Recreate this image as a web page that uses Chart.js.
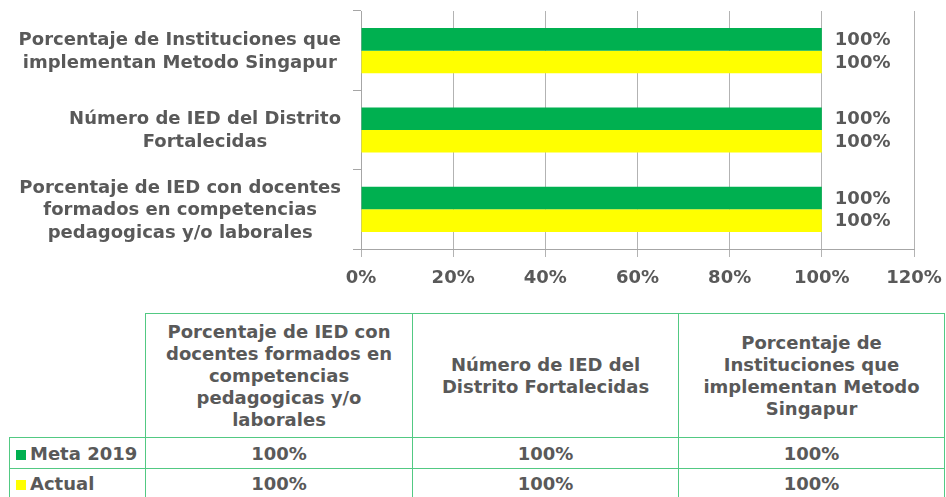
<!DOCTYPE html>
<html>
<head>
<meta charset="utf-8">
<script src="https://cdn.jsdelivr.net/npm/chart.js@4.4.1/dist/chart.umd.min.js"></script>
<style>
  body { margin: 0; background: #fff; }
  #wrap { position: absolute; left: 0; top: 0; width: 946px; height: 300px; }
  #datatable {
    position: absolute; left: 9px; top: 313px;
    border-collapse: collapse; table-layout: fixed;
    color: #595959;
    font-family: "DejaVu Sans", sans-serif; font-weight: bold;
  }
  #datatable td { border: 1px solid #52c983; text-align: center; padding: 0; }
  #datatable td.corner { border: none; }
  #datatable td.head {
    font-size: 18px; line-height: 22px; height: 123px; white-space: nowrap;
  }
  #datatable td.val, #datatable td.name { font-size: 18px; }
  #datatable td.name { text-align: left; padding-left: 6px; white-space: nowrap; }
  .sq { display: inline-block; width: 10px; height: 10px; margin-right: 4px; }
</style>
</head>
<body>
<div id="wrap"><canvas id="metaChart" width="946" height="300"></canvas></div>
<table id="datatable"></table>
<script>
// categories as in the data table (left to right), bars run bottom to top
var categories = [
  'Porcentaje de IED con docentes formados en competencias pedagogicas y/o laborales',
  'Número de IED del Distrito Fortalecidas',
  'Porcentaje de Instituciones que implementan Metodo Singapur'
];
var chartLabels = [
  ['Porcentaje de IED con docentes', 'formados en competencias', 'pedagogicas y/o laborales'],
  ['Número de IED del Distrito', 'Fortalecidas'],
  ['Porcentaje de Instituciones que', 'implementan Metodo Singapur']
];
var tableHeads = [
  ['Porcentaje de IED con', 'docentes formados en', 'competencias', 'pedagogicas y/o', 'laborales'],
  ['Número de IED del', 'Distrito Fortalecidas'],
  ['Porcentaje de', 'Instituciones que', 'implementan Metodo', 'Singapur']
];
var meta2019 = [100, 100, 100];
var actual = [100, 100, 100];
var xTicks = [0, 20, 40, 60, 80, 100, 120];

var greenColor = '#00b050';
var yellowColor = '#ffff00';
var textColor = '#595959';
var chartFont = 'bold 18px "DejaVu Sans"';

// category labels: each block centred on itself, block right edge near the axis
const categoryLabels = {
  id: 'categoryLabels',
  afterDraw(chart) {
    var ctx = chart.ctx;
    var yScale = chart.scales.y;
    ctx.save();
    ctx.font = chartFont;
    ctx.fillStyle = textColor;
    ctx.textAlign = 'center';
    ctx.textBaseline = 'middle';
    chartLabels.forEach(function (lines, i) {
      var maxW = 0;
      lines.forEach(function (l) { maxW = Math.max(maxW, ctx.measureText(l).width); });
      var cx = 341 - maxW / 2;
      var cy = yScale.getPixelForValue(i) + 1;
      var lh = 22.5;
      lines.forEach(function (l, j) {
        ctx.fillText(l, cx, cy + (j - (lines.length - 1) / 2) * lh);
      });
    });
    ctx.restore();
  }
};

// value labels at the end of every bar
const barValues = {
  id: 'barValues',
  afterDatasetsDraw(chart) {
    var ctx = chart.ctx;
    ctx.save();
    ctx.font = chartFont;
    ctx.fillStyle = textColor;
    ctx.textAlign = 'left';
    ctx.textBaseline = 'middle';
    chart.data.datasets.forEach(function (ds, di) {
      chart.getDatasetMeta(di).data.forEach(function (bar, i) {
        ctx.fillText(ds.data[i] + '%', bar.x + 13, bar.y + 1);
      });
    });
    ctx.restore();
  }
};

const metaChart = new Chart(document.getElementById('metaChart'), {
  type: 'bar',
  data: {
    labels: categories,
    datasets: [
      { label: 'Meta 2019', data: meta2019, backgroundColor: greenColor },
      { label: 'Actual', data: actual, backgroundColor: yellowColor }
    ]
  },
  options: {
    indexAxis: 'y',
    responsive: false,
    animation: false,
    categoryPercentage: 0.57,
    barPercentage: 1,
    layout: { padding: { top: 11, right: 32, left: 0, bottom: 0 } },
    plugins: {
      legend: { display: false },
      tooltip: { enabled: false }
    },
    scales: {
      x: {
        min: 0,
        max: 120,
        afterBuildTicks: function (scale) {
          scale.ticks = xTicks.map(function (v) { return { value: v }; });
        },
        afterFit: function (scale) {
          scale.height = 51;
          scale.paddingRight = 0;
        },
        grid: { color: '#b3b3b3', tickLength: 8 },
        border: { color: '#a6a6a6' },
        ticks: {
          color: textColor,
          font: { family: 'DejaVu Sans', size: 18, weight: 'bold' },
          padding: 11,
          maxRotation: 0,
          callback: function (v) { return v + '%'; }
        }
      },
      y: {
        reverse: true,
        afterFit: function (scale) { scale.width = 361; },
        grid: { drawOnChartArea: false, color: '#a6a6a6', tickLength: 8 },
        border: { color: '#a6a6a6' },
        ticks: { display: false }
      }
    }
  },
  plugins: [categoryLabels, barValues]
});

// data table under the chart
var table = document.getElementById('datatable');
var widths = [136, 267, 266, 266];
var cg = '<colgroup>' + widths.map(function (w) { return '<col style="width:' + w + 'px">'; }).join('') + '</colgroup>';
var head = '<tr><td class="corner"></td>' + tableHeads.map(function (h) {
  return '<td class="head">' + h.join('<br>') + '</td>';
}).join('') + '</tr>';
function row(name, color, vals, h) {
  return '<tr style="height:' + h + 'px"><td class="name"><span class="sq" style="background:' + color + '"></span>' + name + '</td>' +
    vals.map(function (v) { return '<td class="val">' + v + '%</td>'; }).join('') + '</tr>';
}
table.innerHTML = cg + head + row('Meta 2019', greenColor, meta2019, 31) + row('Actual', yellowColor, actual, 30);
</script>
</body>
</html>
